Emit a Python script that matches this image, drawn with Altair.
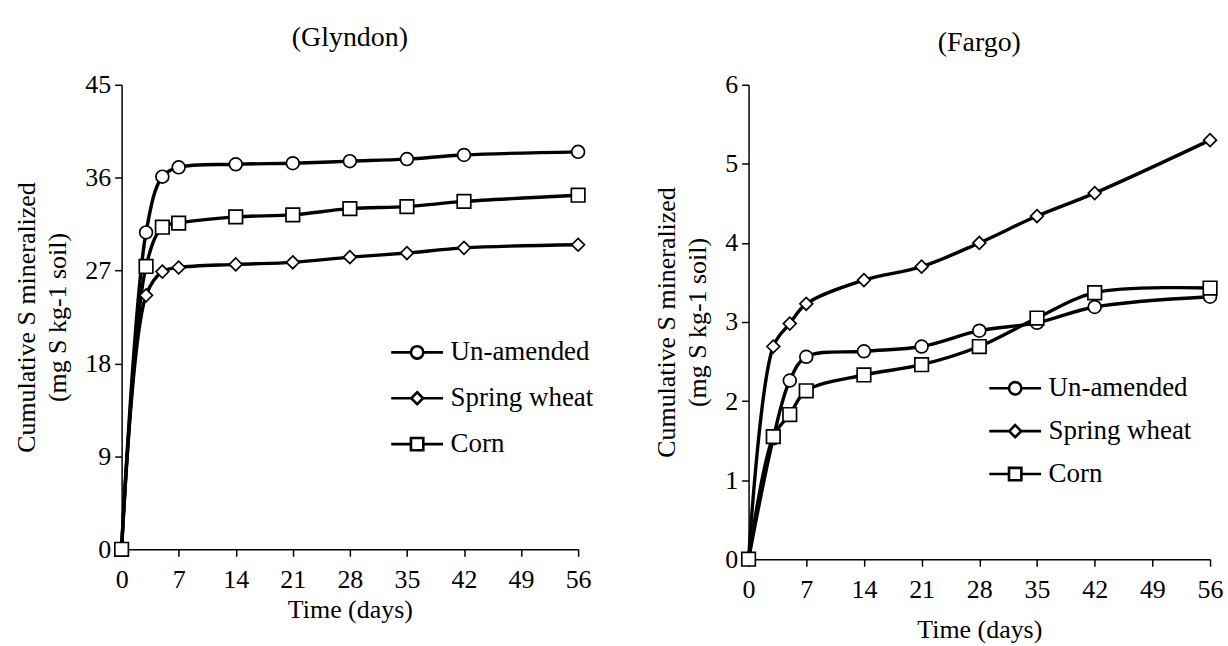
import altair as alt
import pandas as pd

days = [0, 3, 5, 7, 14, 21, 28, 35, 42, 56]
series_names = ["Un-amended", "Spring wheat", "Corn"]

glyndon_unamended = [0, 30.7, 36.1, 37.0, 37.3, 37.4, 37.6, 37.8, 38.2, 38.5]
glyndon_wheat = [0, 24.6, 26.9, 27.3, 27.6, 27.8, 28.3, 28.7, 29.2, 29.5]
glyndon_corn = [0, 27.4, 31.2, 31.6, 32.2, 32.4, 33.0, 33.2, 33.7, 34.3]

fargo_unamended = [0, 1.53, 2.26, 2.56, 2.63, 2.69, 2.89, 2.99, 3.19, 3.32]
fargo_wheat = [0, 2.69, 2.98, 3.23, 3.53, 3.70, 4.00, 4.34, 4.63, 5.30]
fargo_corn = [0, 1.55, 1.83, 2.13, 2.33, 2.46, 2.69, 3.05, 3.37, 3.43]

x_ticks = [0, 7, 14, 21, 28, 35, 42, 49, 56]
glyndon_y_ticks = [0, 9, 18, 27, 36, 45]
fargo_y_ticks = [0, 1, 2, 3, 4, 5, 6]

FONT = "Liberation Serif"
marker_shapes = ["circle", "diamond", "square"]
marker_sizes = [165, 165, 185]

# legend symbols: line segment + marker (custom paths)
legend_paths = [
    "M-2.6,0H-0.62M0.62,0H2.6M0.62,0A0.62,0.62,0,1,1,-0.62,0A0.62,0.62,0,1,1,0.62,0Z",
    "M-2.6,0H-0.6M0.6,0H2.6M0,-0.6L0.6,0L0,0.6L-0.6,0Z",
    "M-2.6,0H-0.62M0.62,0H2.6M-0.62,-0.62H0.62V0.62H-0.62Z",
]


def make_df(vals_list):
    rows = []
    for name, vals in zip(series_names, vals_list):
        for d, v in zip(days, vals):
            rows.append({"day": d, "value": v, "series": name})
    return pd.DataFrame(rows)


def panel(df, title, yticks, w, h, leg_x, leg_y, row_pad, title_offset, xtitle_pad):
    base = alt.Chart(df)
    x = alt.X(
        "day:Q",
        scale=alt.Scale(domain=[0, 56], nice=False, zero=False),
        axis=alt.Axis(values=x_ticks, title="Time (days)", labelPadding=10,
                      titlePadding=xtitle_pad, format="d", labelFlush=False),
    )
    y = alt.Y(
        "value:Q",
        scale=alt.Scale(domain=[yticks[0], yticks[-1]], nice=False),
        axis=alt.Axis(values=yticks, title=["Cumulative S mineralized", "(mg S kg-1 soil)"],
                      labelPadding=4, titlePadding=14, titleLineHeight=31, format="d",
                      labelFlush=False),
    )
    lines = base.mark_line(color="black", strokeWidth=3.4, interpolate="catmull-rom").encode(
        x=x, y=y, detail="series:N"
    )
    layers = [lines]
    for name, shp, sz in zip(series_names, marker_shapes, marker_sizes):
        layers.append(
            base.transform_filter(alt.datum.series == name)
            .mark_point(shape=shp, size=sz, filled=True, fill="white", stroke="black",
                        strokeWidth=1.7, opacity=1)
            .encode(x="day:Q", y="value:Q")
        )
    leg = (
        base.transform_filter("false")
        .mark_point(filled=False, color="black", strokeWidth=2.6)
        .encode(
            x="day:Q",
            y="value:Q",
            shape=alt.Shape(
                "series:N",
                scale=alt.Scale(domain=series_names, range=legend_paths),
                legend=alt.Legend(
                    title=None, orient="none", legendX=leg_x, legendY=leg_y,
                    labelFont=FONT, labelFontSize=27, labelColor="black",
                    symbolSize=400, symbolStrokeWidth=2.6, symbolStrokeColor="black",
                    symbolOpacity=1, labelOffset=20,
                    rowPadding=row_pad, padding=0,
                ),
            ),
        )
    )
    layers.append(leg)
    return alt.layer(*layers).properties(
        width=w, height=h,
        title=alt.TitleParams(title, font=FONT, fontSize=28, fontWeight="normal",
                              color="black", offset=title_offset),
    )


g_df = make_df([glyndon_unamended, glyndon_wheat, glyndon_corn])
f_df = make_df([fargo_unamended, fargo_wheat, fargo_corn])

left = panel(g_df, "(Glyndon)", glyndon_y_ticks, 458, 466, 283, 255, 18, 20, 4)
right = panel(f_df, "(Fargo)", fargo_y_ticks, 463, 476, 254, 291, 15, 15, 15)

chart = (
    alt.hconcat(left, right, spacing=171, bounds="flush")
    .resolve_scale(shape="independent")
    .resolve_legend(shape="independent")
    .properties(padding={"left": 14, "top": 23, "right": 5, "bottom": 5}, background="white")
    .configure_view(stroke=None)
    .configure_axis(
        domainColor="black", domainWidth=1.5, tickColor="black", tickWidth=1.5, tickSize=7,
        grid=False, labelFont=FONT, labelFontSize=26, labelColor="black",
        titleFont=FONT, titleFontSize=26, titleFontWeight="normal", titleColor="black",
    )
)

chart.save("out.html", embed_options={"renderer": "svg", "actions": False})
